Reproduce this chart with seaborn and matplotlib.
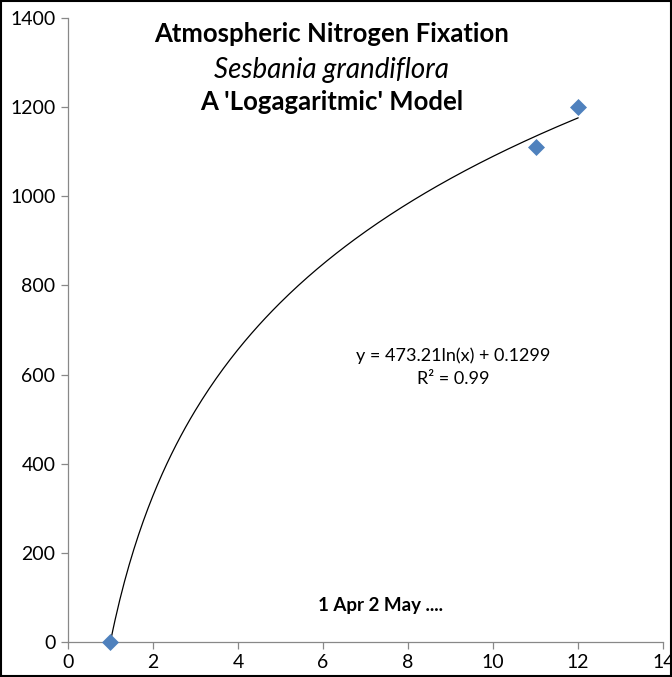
import numpy as np
import pandas as pd
import matplotlib
matplotlib.use("Agg")
import matplotlib.pyplot as plt
import seaborn as sns
from matplotlib.patches import Rectangle

# Data
month = [1, 11, 12]
nitrogen = [0, 1110, 1200]

# Trendline coefficients (from chart label)
coef_a = 473.21
coef_b = 0.1299
trend_x_range = [1, 12]

title_lines = ["Atmospheric Nitrogen Fixation", "Sesbania grandiflora", "A 'Logagaritmic' Model"]
equation_text = "y = 473.21ln(x) + 0.1299"
r2_text = "R² = 0.99"
note_text = "1 Apr 2 May ...."

sns.set_theme(style="white")
plt.rcParams['font.family'] = ['Lato', 'DejaVu Sans']
plt.rcParams['text.color'] = 'black'

fig = plt.figure(figsize=(6.72, 6.77), dpi=100)
ax = fig.add_axes([0.101, 0.0517, 0.886, 0.9217])

df = pd.DataFrame({"x": month, "y": nitrogen})
tx = np.linspace(trend_x_range[0], trend_x_range[1], 200)
trend = pd.DataFrame({"x": tx, "y": coef_a * np.log(tx) + coef_b})

sns.lineplot(data=trend, x="x", y="y", ax=ax, color="black", linewidth=0.9)
sns.scatterplot(data=df, x="x", y="y", ax=ax, marker="D", s=75, color="#4F81BD",
                edgecolor="#4F81BD", linewidth=0, zorder=5, clip_on=False)

ax.set_xlim(0, 14)
ax.set_ylim(0, 1400)
ax.set_xticks(np.arange(0, 15, 2))
ax.set_yticks(np.arange(0, 1401, 200))
ax.set_xlabel("")
ax.set_ylabel("")
for s in ["top", "right"]:
    ax.spines[s].set_visible(False)
for s in ["left", "bottom"]:
    ax.spines[s].set_color("#888888")
    ax.spines[s].set_linewidth(0.9)
ax.tick_params(axis="both", which="both", direction="out", length=5, width=0.9,
               color="#888888", labelsize=14, labelcolor="black", pad=4)
ax.tick_params(axis="x", bottom=True)
ax.tick_params(axis="y", left=True)
ax.patch.set_alpha(0)

# Titles
ax.text(6.2, 1364, title_lines[0], ha="center", va="center", fontsize=18.5, fontweight="bold", color="black")
ax.text(6.2, 1283, title_lines[1], ha="center", va="center", fontsize=20, style="italic", color="black")
ax.text(6.2, 1212, title_lines[2], ha="center", va="center", fontsize=18.5, fontweight="bold", color="black")

ax.text(9.05, 642, equation_text, ha="center", va="center", fontsize=13, color="black")
ax.text(9.05, 590, r2_text, ha="center", va="center", fontsize=13, color="black")

ax.text(7.35, 82, note_text, ha="center", va="center", fontsize=13.5, fontweight="bold", color="black")

fig.patches.append(Rectangle((0.001, 0.001), 0.997, 0.997, transform=fig.transFigure,
                             fill=False, edgecolor="black", linewidth=1.5))

fig.savefig("out.png", dpi=100)
